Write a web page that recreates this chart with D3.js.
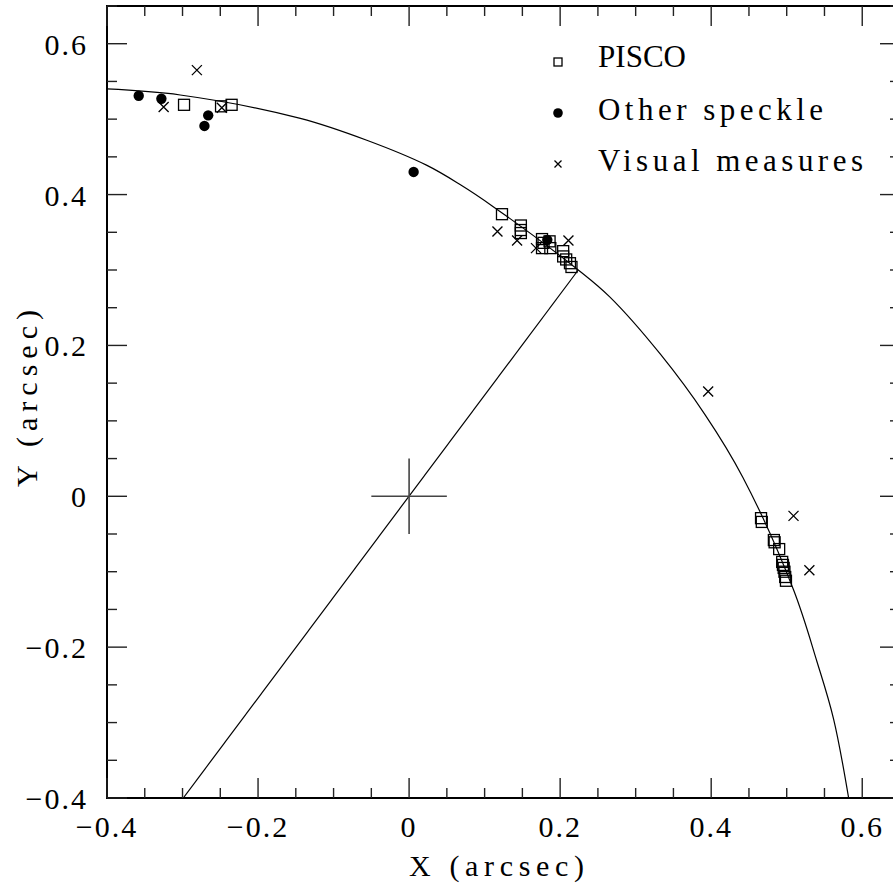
<!DOCTYPE html>
<html>
<head>
  <title>Orbit</title>
  <script src="https://d3js.org/d3.v7.min.js"></script>
  <style>
    body, html {
      margin: 0;
      padding: 0;
      background: #fff;
      overflow: hidden;
    }
  </style>
</head>
<body>
  <div id="chart"></div>

  <script>
    // PISCO measures
    const piscoX = [-0.298, -0.249, -0.235,
      0.123, 0.148, 0.148, 0.148, 0.176, 0.178, 0.186, 0.187, 0.176, 0.204, 0.204, 0.208, 0.213, 0.215,
      0.466, 0.467, 0.483, 0.484, 0.490, 0.494, 0.495, 0.496, 0.497, 0.498, 0.499];
    const piscoY = [0.519, 0.517, 0.519,
      0.374, 0.359, 0.353, 0.349, 0.341, 0.336, 0.338, 0.329, 0.329, 0.325, 0.318, 0.314, 0.309, 0.304,
      -0.029, -0.034, -0.058, -0.061, -0.070, -0.087, -0.091, -0.095, -0.100, -0.107, -0.112];

    // other speckle measures
    const speckleX = [-0.358, -0.328, -0.266, -0.271, 0.006, 0.183];
    const speckleY = [0.531, 0.527, 0.505, 0.491, 0.430, 0.340];

    // visual measures
    const visualX = [-0.281, -0.325, -0.248, 0.117, 0.143, 0.168, 0.211, 0.396, 0.509, 0.530];
    const visualY = [0.565, 0.516, 0.515, 0.351, 0.339, 0.329, 0.339, 0.139, -0.026, -0.098];

    // orbit
    const orbitX = [-0.400, -0.303, -0.144, -0.056, 0.023, 0.068, 0.110, 0.224, 0.266, 0.333, 0.392, 0.442, 0.509, 0.540, 0.562, 0.582];
    const orbitY = [0.540, 0.532, 0.501, 0.472, 0.439, 0.413, 0.385, 0.300, 0.264, 0.188, 0.108, 0.025, -0.124, -0.219, -0.295, -0.400];

    // line through the primary
    const lineX = [0.224, -0.299];
    const lineY = [0.300, -0.400];

    const domain = [-0.4, 0.65];
    const majorTicks = [-0.4, -0.2, 0, 0.2, 0.4, 0.6];
    const minorTicks = d3.range(-0.4, 0.651, 0.05).map(v => +v.toFixed(2));

    const legendLabels = ["PISCO", "Other speckle", "Visual measures"];

    const FONT = "'Liberation Serif', 'DejaVu Serif', 'Noto Serif', 'Times New Roman', Times, serif";

    const width = 893, height = 886;
    const margin = { left: 107, top: 6 };
    const plotW = 793, plotH = 792;

    const svg = d3.select("#chart").append("svg")
      .attr("width", width)
      .attr("height", height);

    const x = d3.scaleLinear().domain(domain).range([margin.left, margin.left + plotW]);
    const y = d3.scaleLinear().domain(domain).range([margin.top + plotH, margin.top]);

    svg.append("clipPath").attr("id", "clip")
      .append("rect")
      .attr("x", x(domain[0])).attr("y", y(domain[1]))
      .attr("width", plotW).attr("height", plotH);

    const plot = svg.append("g").attr("clip-path", "url(#clip)");

    // orbit
    const orbit = orbitX.map((v, i) => [v, orbitY[i]]);
    plot.append("path")
      .datum(orbit)
      .attr("d", d3.line().x(d => x(d[0])).y(d => y(d[1])).curve(d3.curveCatmullRom))
      .attr("fill", "none")
      .attr("stroke", "#000")
      .attr("stroke-width", 1.2);

    plot.append("line")
      .attr("x1", x(lineX[0])).attr("y1", y(lineY[0]))
      .attr("x2", x(lineX[1])).attr("y2", y(lineY[1]))
      .attr("stroke", "#000")
      .attr("stroke-width", 1.2);

    // cross at the primary
    plot.append("line")
      .attr("x1", x(-0.05)).attr("x2", x(0.05))
      .attr("y1", y(0)).attr("y2", y(0))
      .attr("stroke", "#444").attr("stroke-width", 1.6);
    plot.append("line")
      .attr("x1", x(0)).attr("x2", x(0))
      .attr("y1", y(-0.05)).attr("y2", y(0.05))
      .attr("stroke", "#444").attr("stroke-width", 1.6);

    // markers
    function square(g, cx, cy, s) {
      g.append("rect")
        .attr("x", cx - s / 2).attr("y", cy - s / 2)
        .attr("width", s).attr("height", s)
        .attr("fill", "none").attr("stroke", "#000").attr("stroke-width", 1.3);
    }
    function cross(g, cx, cy, s) {
      g.append("path")
        .attr("d", `M${cx - s},${cy - s}L${cx + s},${cy + s}M${cx - s},${cy + s}L${cx + s},${cy - s}`)
        .attr("stroke", "#000").attr("stroke-width", 1.3).attr("fill", "none");
    }

    piscoX.forEach((v, i) => square(plot, x(v), y(piscoY[i]), 11));

    plot.append("g").selectAll("circle")
      .data(speckleX.map((v, i) => [v, speckleY[i]]))
      .join("circle")
      .attr("cx", d => x(d[0]))
      .attr("cy", d => y(d[1]))
      .attr("r", 5.2)
      .attr("fill", "#000");

    visualX.forEach((v, i) => cross(plot, x(v), y(visualY[i]), 5));

    // frame
    svg.append("rect")
      .attr("x", x(domain[0])).attr("y", y(domain[1]))
      .attr("width", plotW).attr("height", plotH)
      .attr("fill", "none").attr("stroke", "#000").attr("stroke-width", 2);

    // ticks on all four sides
    const tickG = svg.append("g").attr("stroke", "#222").attr("stroke-width", 1.4);
    minorTicks.forEach(v => {
      const len = majorTicks.some(m => Math.abs(m - v) < 1e-6) ? 20 : 10;
      const px = x(v), py = y(v);
      tickG.append("line").attr("x1", px).attr("x2", px).attr("y1", y(domain[0])).attr("y2", y(domain[0]) - len);
      tickG.append("line").attr("x1", px).attr("x2", px).attr("y1", y(domain[1])).attr("y2", y(domain[1]) + len);
      tickG.append("line").attr("y1", py).attr("y2", py).attr("x1", x(domain[0])).attr("x2", x(domain[0]) + len);
      tickG.append("line").attr("y1", py).attr("y2", py).attr("x1", x(domain[1])).attr("x2", x(domain[1]) - len);
    });

    const fmt = v => (v < 0 ? "\u2212" : "") + (v === 0 ? "0" : Math.abs(v).toFixed(1));

    // tick labels
    svg.append("g").selectAll("text")
      .data(majorTicks)
      .join("text")
      .attr("x", d => x(d))
      .attr("y", 837)
      .attr("text-anchor", "middle")
      .attr("font-family", FONT)
      .attr("font-size", 30)
      .attr("letter-spacing", 2)
      .text(fmt);

    svg.append("g").selectAll("text")
      .data(majorTicks)
      .join("text")
      .attr("x", 88)
      .attr("y", d => y(d) + 11)
      .attr("text-anchor", "end")
      .attr("font-family", FONT)
      .attr("font-size", 30)
      .attr("letter-spacing", 2)
      .text(fmt);

    // axis titles
    svg.append("text")
      .attr("x", 409).attr("y", 876)
      .attr("font-family", FONT)
      .attr("font-size", 30)
      .attr("textLength", 175).attr("lengthAdjust", "spacing")
      .text("X (arcsec)");

    svg.append("text")
      .attr("transform", "translate(37,487) rotate(-90)")
      .attr("font-family", FONT)
      .attr("font-size", 30)
      .attr("textLength", 177).attr("lengthAdjust", "spacing")
      .text("Y (arcsec)");

    // legend
    const legendY = [62, 113, 164];
    const legendW = [88, 225, 265];
    const leg = svg.append("g");
    square(leg, 558, legendY[0], 8);
    leg.append("circle").attr("cx", 558).attr("cy", legendY[1]).attr("r", 4.8).attr("fill", "#000");
    cross(leg, 558, legendY[2], 3.5);
    legendLabels.forEach((t, i) => {
      leg.append("text")
        .attr("x", 598).attr("y", legendY[i] + 5 + (i === 0 ? 0 : 2))
        .attr("font-family", FONT)
        .attr("font-size", 31)
        .attr("textLength", legendW[i]).attr("lengthAdjust", "spacing")
        .text(t);
    });
  </script>
</body>
</html>
